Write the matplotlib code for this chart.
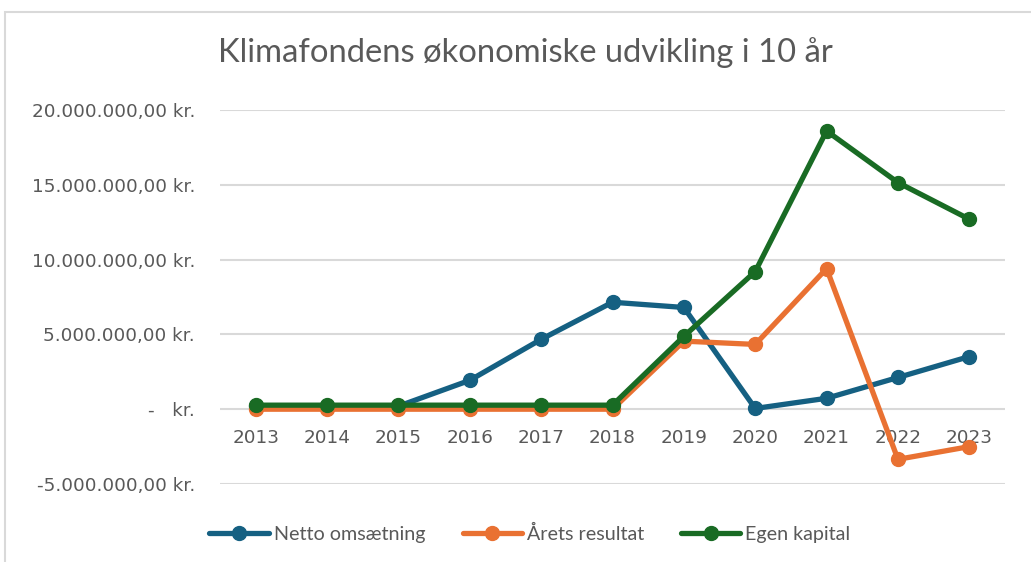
import matplotlib
matplotlib.use('Agg')
import matplotlib.pyplot as plt
from matplotlib.patches import Rectangle
import numpy as np

years = ['2013', '2014', '2015', '2016', '2017', '2018', '2019', '2020', '2021', '2022', '2023']
netto_omsaetning = [0.2e6, 0.2e6, 0.2e6, 1.93e6, 4.67e6, 7.15e6, 6.8e6, 0.05e6, 0.73e6, 2.12e6, 3.52e6]
aarets_resultat = [0.0, 0.0, 0.0, 0.0, 0.0, 0.0, 4.55e6, 4.33e6, 9.4e6, -3.35e6, -2.5e6]
egen_kapital = [0.27e6, 0.27e6, 0.27e6, 0.27e6, 0.27e6, 0.27e6, 4.87e6, 9.2e6, 18.6e6, 15.15e6, 12.7e6]
series_names = ['Netto omsætning', 'Årets resultat', 'Egen kapital']
y_ticks = [-5e6, 0, 5e6, 10e6, 15e6, 20e6]
y_tick_labels = ['-5.000.000,00 kr.', '-   kr.', '5.000.000,00 kr.', '10.000.000,00 kr.',
                 '15.000.000,00 kr.', '20.000.000,00 kr.']

colors = ['#156082', '#E97132', '#196B24']
narrow = ['Lato', 'DejaVu Sans']

W, H = 1031, 562
fig = plt.figure(figsize=(W / 100, H / 100), dpi=100)
ax = fig.add_axes([220 / W, 1 - 484 / H, (1005 - 220) / W, (484 - 110) / H])

x = np.arange(len(years))
for vals, name, c in zip([netto_omsaetning, aarets_resultat, egen_kapital], series_names, colors):
    ax.plot(x, vals, color=c, lw=3.8, marker='o', ms=10, label=name, solid_capstyle='round')

ax.set_xlim(-0.5, len(years) - 0.5)
ax.set_ylim(-5e6, 20e6)
ax.set_yticks(y_ticks)
ax.set_yticklabels(y_tick_labels)
ax.yaxis.grid(True, color='#d9d9d9', lw=1.5)
ax.set_axisbelow(True)
ax.set_xticks(x)
ax.set_xticklabels(years)
for s in ax.spines.values():
    s.set_visible(False)
ax.spines['bottom'].set_position(('data', 0))
ax.tick_params(axis='both', length=0, labelsize=13.2, labelcolor='#595959')
ax.tick_params(axis='y', pad=18)
ax.tick_params(axis='x', pad=14)

fig.text(525 / W, 1 - 53 / H, 'Klimafondens økonomiske udvikling i 10 år', ha='center', va='center',
         fontsize=23.6, color='#595959', family=narrow)

leg = fig.legend(loc='center', bbox_to_anchor=(530 / W, 1 - 534 / H), ncol=3, frameon=False,
                 handlelength=3.0, handletextpad=0.25, columnspacing=1.9,
                 prop={'family': narrow, 'size': 14.2})
for t in leg.get_texts():
    t.set_color('#595959')

# chart area border
fig.patches.append(Rectangle((5 / W, -0.1), 1.2, 1 - 12 / H + 0.1, transform=fig.transFigure,
                             fill=False, ec='#d9d9d9', lw=1.5))

fig.savefig('out.png', dpi=100, facecolor='white')
